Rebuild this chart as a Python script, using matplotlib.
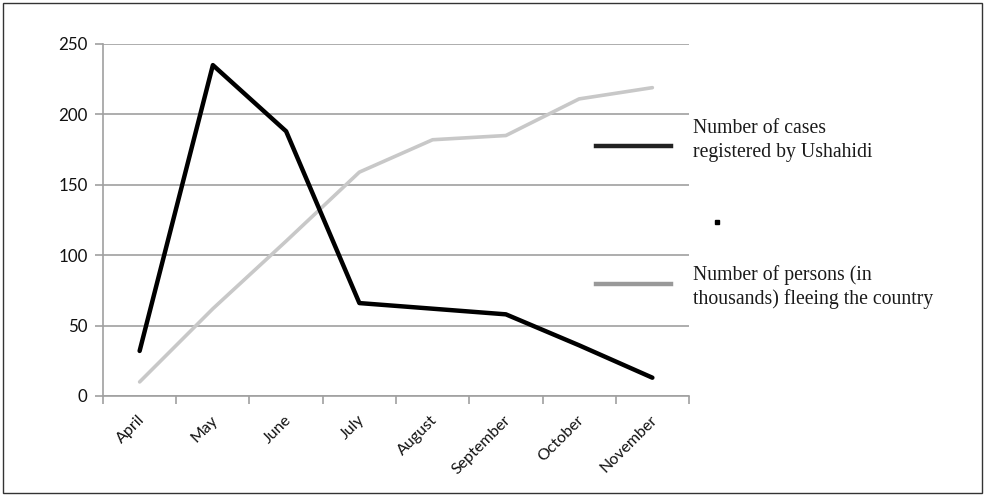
import matplotlib
matplotlib.use("Agg")
import matplotlib.pyplot as plt
from matplotlib.lines import Line2D
from matplotlib.patches import Rectangle
from matplotlib.transforms import ScaledTranslation
import numpy as np

months = ["April", "May", "June", "July", "August", "September", "October", "November"]
cases_ushahidi = [32, 235, 188, 66, 62, 58, 36, 13]
persons_fleeing = [10, 62, 110, 159, 182, 185, 211, 219]
yticks = [0, 50, 100, 150, 200, 250]
legend_labels = ["Number of cases\nregistered by Ushahidi",
                 "Number of persons (in\nthousands) fleeing the country"]

TICKFONT = "Lato"
fig = plt.figure(figsize=(9.85, 4.96), dpi=100)
ax = fig.add_axes([103/985, 1-396/496, (689-103)/985, (396-44)/496])

x = np.arange(len(months))
ax.plot(x, persons_fleeing, color="#c8c8c8", lw=2.6, solid_capstyle="round", solid_joinstyle="round", zorder=3)
ax.plot(x, cases_ushahidi, color="#000000", lw=3.2, solid_capstyle="round", solid_joinstyle="round", zorder=4)

ax.set_xlim(-0.5, len(months) - 0.5)
ax.set_ylim(0, 250)
ax.set_yticks(yticks)
ax.set_yticklabels([str(v) for v in yticks], fontfamily=TICKFONT, fontsize=12.2, color="#111111")
ax.yaxis.grid(True, color="#a0a0a0", lw=1.2)
ax.set_axisbelow(True)

ax.set_xticks(np.arange(len(months) + 1) - 0.5)
ax.set_xticklabels([])
ax.set_xticks(x, minor=True)
ax.set_xticklabels(months, minor=True, rotation=45, ha="right", va="top",
                   rotation_mode="anchor", fontfamily=TICKFONT, fontsize=11.5, color="#111111")
ax.tick_params(axis="x", which="minor", length=0, pad=12)
ax.tick_params(axis="x", which="major", length=6, color="#a0a0a0", width=1.2)
ax.tick_params(axis="y", length=6, color="#a0a0a0", width=1.2, pad=5)
for lbl in ax.get_xticklabels(minor=True):
    lbl.set_transform(lbl.get_transform() + ScaledTranslation(-2/100, 0, fig.dpi_scale_trans))

for s in ["top", "right"]:
    ax.spines[s].set_visible(False)
for s in ["left", "bottom"]:
    ax.spines[s].set_color("#a0a0a0")
    ax.spines[s].set_linewidth(1.2)

W, H = 985, 496
def fx(px): return px / W
def fy(py): return 1 - py / H

fig.add_artist(Line2D([fx(596), fx(671)], [fy(146), fy(146)], color="#222222", lw=3.2))
fig.add_artist(Line2D([fx(596), fx(671)], [fy(284), fy(284)], color="#999999", lw=3.2))
for label, base in zip(legend_labels, [133, 280]):
    for i, line in enumerate(label.split("\n")):
        fig.text(fx(693), fy(base + 24 * i), line, fontfamily="Liberation Serif", fontsize=14.2,
                 va="baseline", ha="left", color="#1a1a1a")
fig.add_artist(Rectangle((fx(715), fy(224)), 4/W, 4/H, transform=fig.transFigure, color="black"))

fig.add_artist(Rectangle((fx(3), fy(493)), 979/W, 490/H, transform=fig.transFigure,
                         fill=False, edgecolor="#333333", lw=1))

fig.savefig("out.png", dpi=100)
